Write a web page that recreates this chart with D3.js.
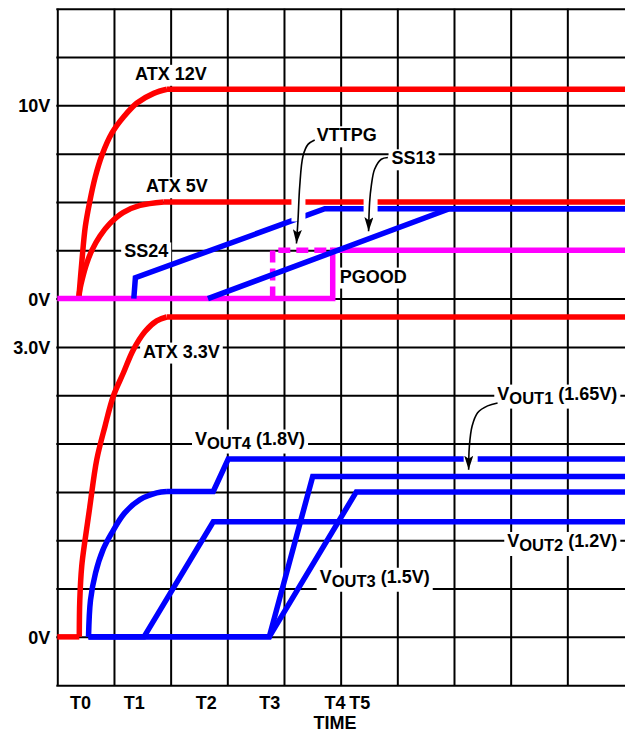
<!DOCTYPE html>
<html>
<head>
<meta charset="utf-8">
<script src="https://cdn.jsdelivr.net/npm/d3@7/dist/d3.min.js"></script>
<style>
  html, body { margin: 0; padding: 0; background: #fff; }
  svg { display: block; }
  text { font-family: "Liberation Sans", Arial, Helvetica, sans-serif; font-weight: bold; font-size: 18px; fill: #000; }
</style>
</head>
<body>
<svg id="chart"></svg>
<script>
// time is in grid divisions, voltages in volts (top panel 2.5V/div, bottom panel 0.5V/div)
const timeLabels = ["T0", "T1", "T2", "T3", "T4", "T5"];
const timeValues = [0.40, 1.35, 2.62, 3.74, 4.89, 5.33];
const topTickValues = [0, 10];
const topTickLabels = ["0V", "10V"];
const bottomTickValues = [0, 3];
const bottomTickLabels = ["0V", "3.0V"];

// top panel traces
const atx12Rise = [[0.378, 0], [0.436, 2.0], [0.494, 3.72], [0.568, 4.95], [0.671, 6.31], [0.789, 7.43],
    [0.965, 8.57], [1.172, 9.41], [1.406, 10.12], [1.701, 10.62], [1.936, 10.83]];
const atx12Flat = [[1.936, 10.83], [10.2, 10.83]];
const atx5Rise = [[0.378, 0], [0.404, 0.55], [0.445, 1.07], [0.515, 1.79], [0.612, 2.51], [0.753, 3.24],
    [0.93, 3.89], [1.159, 4.45], [1.459, 4.82], [1.878, 5.0]];
const atx5Flat = [[1.878, 5.0], [10.2, 5.0]];
const ss24 = [[1.35, 0], [1.378, 1.08], [4.72, 4.65], [10.2, 4.65]];
const ss13 = [[2.658, 0], [6.92, 4.65], [10.2, 4.65]];
const pgood = [[0, 0], [4.86, 0], [4.86, 2.5], [10.2, 2.5]];
const vttpg = [[3.8, 0], [3.8, 2.5], [4.86, 2.5]];

// bottom panel traces
const atx33Base = [[0, 0], [0.388, 0]];
const atx33Rise = [[0.388, 0], [0.397, 0.38], [0.431, 0.73], [0.489, 1.0], [0.57, 1.33], [0.695, 1.83],
    [0.842, 2.18], [0.988, 2.49], [1.165, 2.73], [1.341, 2.97], [1.548, 3.16], [1.754, 3.27], [1.93, 3.31]];
const atx33Flat = [[1.93, 3.31], [10.2, 3.31]];
const vout4Rise = [[0.551, 0], [0.586, 0.38], [0.674, 0.66], [0.806, 0.9], [0.956, 1.07], [1.186, 1.28],
    [1.459, 1.42], [1.754, 1.49], [1.936, 1.505]];
const vout4Rest = [[1.936, 1.505], [2.752, 1.505], [3.016, 1.84], [10.2, 1.84]];
const vout2 = [[0.551, 0], [1.53, 0], [2.752, 1.19], [10.2, 1.19]];
const vout1 = [[0.551, 0], [3.74, 0], [4.507, 1.66], [10.2, 1.66]];
const vout3 = [[0.551, 0], [3.74, 0], [5.276, 1.5], [10.2, 1.5]];

// text labels [panel, time, volts, main, sub, rest]
const labels = [
    ["top", 1.373, 11.32, "ATX 12V", "", ""],
    ["top", 1.567, 5.5, "ATX 5V", "", ""],
    ["top", 1.18, 2.13, "SS24", "", ""],
    ["top", 4.577, 8.14, "VTTPG", "", ""],
    ["top", 5.898, 6.95, "SS13", "", ""],
    ["top", 4.982, 0.83, "PGOOD", "", ""],
    ["bottom", 1.514, 2.89, "ATX 3.3V", "", ""],
    ["bottom", 2.43, 1.99, "V", "OUT4", " (1.8V)"],
    ["bottom", 7.764, 2.455, "V", "OUT1", " (1.65V)"],
    ["bottom", 7.94, 0.93, "V", "OUT2", " (1.2V)"],
    ["bottom", 4.63, 0.56, "V", "OUT3", " (1.5V)"]
];

// callout arrows: panel, path points, break in crossed traces [vHigh, vLow]
const arrows = [
    {panel: "top", pts: [[4.542, 8.21], [4.424, 7.98], [4.336, 7.38], [4.278, 5.82], [4.248, 4.1], [4.22, 2.85]], gap: [5.18, 3.99]},
    {panel: "top", pts: [[5.833, 7.3], [5.717, 7.21], [5.599, 6.69], [5.54, 5.82], [5.511, 4.98], [5.493, 3.49]], gap: [5.18, 4.41]},
    {panel: "bottom", pts: [[7.769, 2.42], [7.593, 2.39], [7.417, 2.32], [7.319, 2.18], [7.271, 1.97], [7.259, 1.73]], gap: [1.89, 1.81]}
];

const width = 625, height = 733;
const grid = {left: 57.3, top: 8.7, colW: 56.67, rowH: 48.32, cols: 10, rows: 14};

const svg = d3.select("#chart").attr("width", width).attr("height", height);

const x = d3.scaleLinear().domain([0, 10]).range([grid.left, grid.left + grid.cols * grid.colW]);
const row = d3.scaleLinear().domain([0, grid.rows]).range([grid.top, grid.top + grid.rows * grid.rowH]);
// top panel: 0V on row 6, 10V on row 2 ; bottom panel: 0V on row 13, 3V on row 7
const yTop = d3.scaleLinear().domain([0, 10]).range([row(6), row(2)]);
const yBot = d3.scaleLinear().domain([0, 3]).range([row(13), row(7)]);
const yOf = p => p === "top" ? yTop : yBot;

// grid
const xGrid = d3.axisBottom(x).tickValues(d3.range(0, 10)).tickSize(row(grid.rows) - row(0)).tickFormat("");
svg.append("g").attr("transform", `translate(0,${row(0)})`).call(xGrid)
    .call(g => g.select(".domain").remove())
    .selectAll("line").attr("stroke", "#000").attr("stroke-width", 2);
const yGrid = d3.axisRight(row).tickValues(d3.range(0, grid.rows + 1)).tickSize(width - grid.left + 5).tickFormat("");
svg.append("g").attr("transform", `translate(${grid.left - 1},0)`).call(yGrid)
    .call(g => g.select(".domain").remove())
    .selectAll("line").attr("stroke", "#000").attr("stroke-width", 2);

// y tick labels
const yAxisTop = d3.axisLeft(yTop).tickValues(topTickValues).tickSize(0).tickPadding(7)
    .tickFormat((d, i) => topTickLabels[i]);
const yAxisBot = d3.axisLeft(yBot).tickValues(bottomTickValues).tickSize(0).tickPadding(7)
    .tickFormat((d, i) => bottomTickLabels[i]);
[yAxisTop, yAxisBot].forEach(ax => {
    svg.append("g").attr("transform", `translate(${grid.left},0)`).call(ax)
        .call(g => g.select(".domain").remove())
        .selectAll("text").attr("font-size", null).attr("font-family", null).attr("fill", "#000").attr("dy", "0.36em");
});

// x tick labels
const xAxis = d3.axisBottom(x).tickValues(timeValues).tickSize(0).tickPadding(11)
    .tickFormat((d, i) => timeLabels[i]);
svg.append("g").attr("transform", `translate(0,${row(grid.rows)})`).call(xAxis)
    .call(g => g.select(".domain").remove())
    .selectAll("text").attr("font-size", null).attr("font-family", null).attr("fill", "#000");
svg.append("text").attr("x", x(4.9)).attr("y", 729).attr("text-anchor", "middle").text("TIME");

// label backgrounds (white boxes that cut the grid)
const labelG = svg.append("g");
labels.forEach(([panel, t, v, main, sub, rest]) => {
    const g = labelG.append("g");
    const txt = g.append("text").attr("x", x(t)).attr("y", yOf(panel)(v));
    txt.append("tspan").text(main);
    if (sub) {
        txt.append("tspan").attr("dy", 4).attr("font-size", 16.5).text(sub);
        txt.append("tspan").attr("dy", -4).text(rest);
    }
    const b = txt.node().getBBox();
    g.insert("rect", "text").attr("x", b.x - 3).attr("y", b.y + 1).attr("width", b.width + 6)
        .attr("height", b.height + 1).attr("fill", "#fff");
    txt.remove();
});

// traces
const smooth = (ys) => d3.line().x(d => x(d[0])).y(d => ys(d[1])).curve(d3.curveCatmullRom.alpha(0.5));
const straight = (ys) => d3.line().x(d => x(d[0])).y(d => ys(d[1]));
const traces = svg.append("g").attr("fill", "none").attr("stroke-width", 5.5);

function draw(data, gen, color, dash) {
    traces.append("path").attr("d", gen(data)).attr("stroke", color)
        .attr("stroke-dasharray", dash || null);
}
draw(atx12Rise, smooth(yTop), "#ff0000");
draw(atx12Flat, straight(yTop), "#ff0000");
draw(atx5Rise, smooth(yTop), "#ff0000");
draw(atx5Flat, straight(yTop), "#ff0000");
draw(pgood, straight(yTop), "#ff00ff");
draw(vttpg, straight(yTop), "#ff00ff", "12,6");
draw(ss24, straight(yTop), "#0000ff");
draw(ss13, straight(yTop), "#0000ff");

draw(atx33Base, straight(yBot), "#ff0000");
draw(atx33Rise, smooth(yBot), "#ff0000");
draw(atx33Flat, straight(yBot), "#ff0000");
draw(vout2, straight(yBot), "#0000ff");
draw(vout1, straight(yBot), "#0000ff");
draw(vout3, straight(yBot), "#0000ff");
draw(vout4Rise, smooth(yBot), "#0000ff");
draw(vout4Rest, straight(yBot), "#0000ff");

// arrowhead marker
svg.append("defs").append("marker").attr("id", "head")
    .attr("markerUnits", "userSpaceOnUse").attr("orient", "auto")
    .attr("markerWidth", 15).attr("markerHeight", 9).attr("refX", 14).attr("refY", 4.5)
    .append("path").attr("d", "M0,0 L14,4.5 L0,9 L3,4.5 Z").attr("fill", "#000");

// callout arrows with breaks in the traces they cross
arrows.forEach(a => {
    const ys = yOf(a.panel);
    const tip = a.pts[a.pts.length - 1];
    svg.append("rect").attr("x", x(tip[0]) - 5).attr("width", 14)
        .attr("y", ys(a.gap[0])).attr("height", ys(a.gap[1]) - ys(a.gap[0])).attr("fill", "#fff");
    svg.append("path")
        .attr("d", d3.line().x(d => x(d[0])).y(d => ys(d[1])).curve(d3.curveCatmullRom.alpha(0.5))(a.pts))
        .attr("fill", "none").attr("stroke", "#000").attr("stroke-width", 1.6)
        .attr("marker-end", "url(#head)");
});

// label texts
labels.forEach(([panel, t, v, main, sub, rest]) => {
    const txt = svg.append("text").attr("x", x(t)).attr("y", yOf(panel)(v));
    txt.append("tspan").text(main);
    if (sub) {
        txt.append("tspan").attr("dy", 4).attr("font-size", 16.5).text(sub);
        txt.append("tspan").attr("dy", -4).text(rest);
    }
});
</script>
</body>
</html>
